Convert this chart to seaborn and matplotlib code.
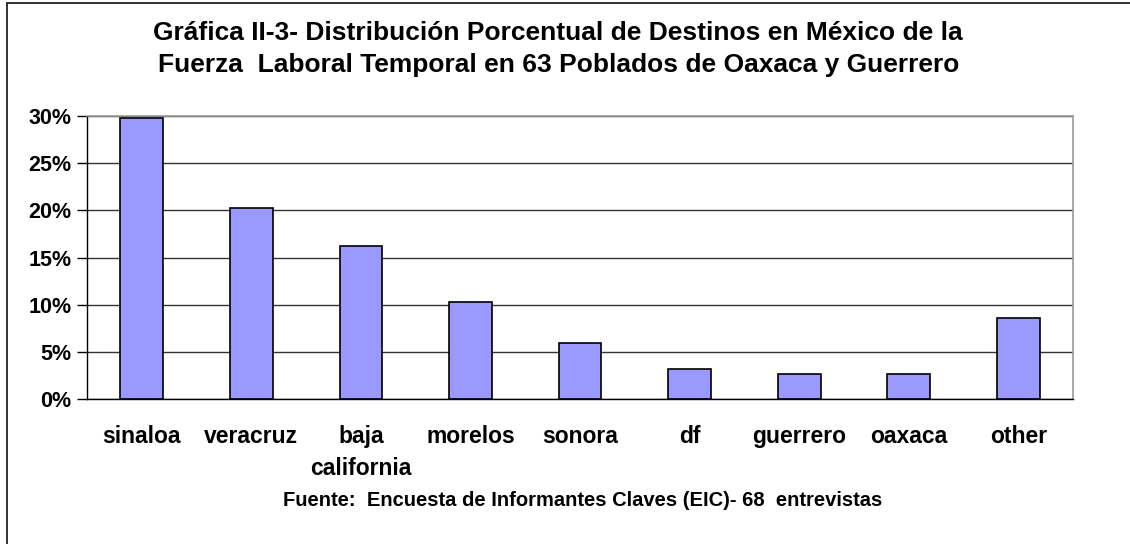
import matplotlib
matplotlib.use("Agg")
import matplotlib.pyplot as plt
import matplotlib.patches as mpatches
from matplotlib.ticker import FuncFormatter, FixedLocator
import seaborn as sns
import pandas as pd

destinos = ['sinaloa', 'veracruz', 'baja\ncalifornia', 'morelos', 'sonora',
            'df', 'guerrero', 'oaxaca', 'other']
porcentajes = [29.8, 20.2, 16.2, 10.3, 5.9, 3.2, 2.7, 2.7, 8.6]
yticks = [0, 5, 10, 15, 20, 25, 30]

titulo = ("Gráfica II-3- Distribución Porcentual de Destinos en México de la\n"
          "Fuerza  Laboral Temporal en 63 Poblados de Oaxaca y Guerrero")
fuente = "Fuente:  Encuesta de Informantes Claves (EIC)- 68  entrevistas"

sns.set_style("white", {'text.color': 'black', 'xtick.color': 'black',
                        'ytick.color': 'black', 'axes.labelcolor': 'black'})
plt.rcParams['font.family'] = ['Liberation Sans', 'DejaVu Sans']

df = pd.DataFrame({'Destino': destinos, 'Pct': porcentajes})

fig = plt.figure(figsize=(11.3, 5.44), dpi=100)
ax = fig.add_axes([0.077, 0.2665, 0.8726, 0.5203])

ax.yaxis.grid(True, color='#333333', linewidth=1)
ax.set_axisbelow(True)
sns.barplot(data=df, x='Destino', y='Pct', color='#9999FF', edgecolor='black',
            linewidth=1.2, width=0.39, saturation=1, ax=ax)

ax.set_ylim(0, 30)
ax.set_xlim(-0.5, len(destinos) - 0.5)
ax.set_yticks(yticks)
ax.yaxis.set_major_formatter(FuncFormatter(lambda v, p: f"{v:.0f}%"))
ax.set_xlabel('')
ax.set_ylabel('')

ax.xaxis.set_minor_locator(FixedLocator([i - 0.5 for i in range(len(destinos) + 1)]))
ax.tick_params(axis='x', which='major', length=0, pad=19, labelsize=16.5,
               labelcolor='black')
ax.tick_params(axis='x', which='minor', length=7, width=1, color='black', direction='out')
ax.tick_params(axis='y', length=7, width=1, color='black', direction='out', pad=4,
               labelsize=15.5, left=True, labelcolor='black')
for lbl in ax.get_xticklabels() + ax.get_yticklabels():
    lbl.set_fontweight('bold')
for lbl in ax.get_xticklabels():
    lbl.set_multialignment('center')
    lbl.set_linespacing(1.5)

for side in ['top', 'right']:
    ax.spines[side].set_color('#999999')
    ax.spines[side].set_linewidth(1.2)
for side in ['left', 'bottom']:
    ax.spines[side].set_color('black')
    ax.spines[side].set_linewidth(1)

fig.text(0.494, 0.962, titulo, ha='center', va='top', fontsize=19,
         fontweight='bold', linespacing=1.45, color='black')
fig.text(0.516, 0.08, fuente, ha='center', va='center', fontsize=14.5,
         fontweight='bold', color='black')

fig.patches.append(mpatches.Rectangle((0.0062, -0.1), 1.2, 1.094,
                                      transform=fig.transFigure, fill=False,
                                      edgecolor='#222222', linewidth=1.3))

fig.savefig('out.png', dpi=100)
